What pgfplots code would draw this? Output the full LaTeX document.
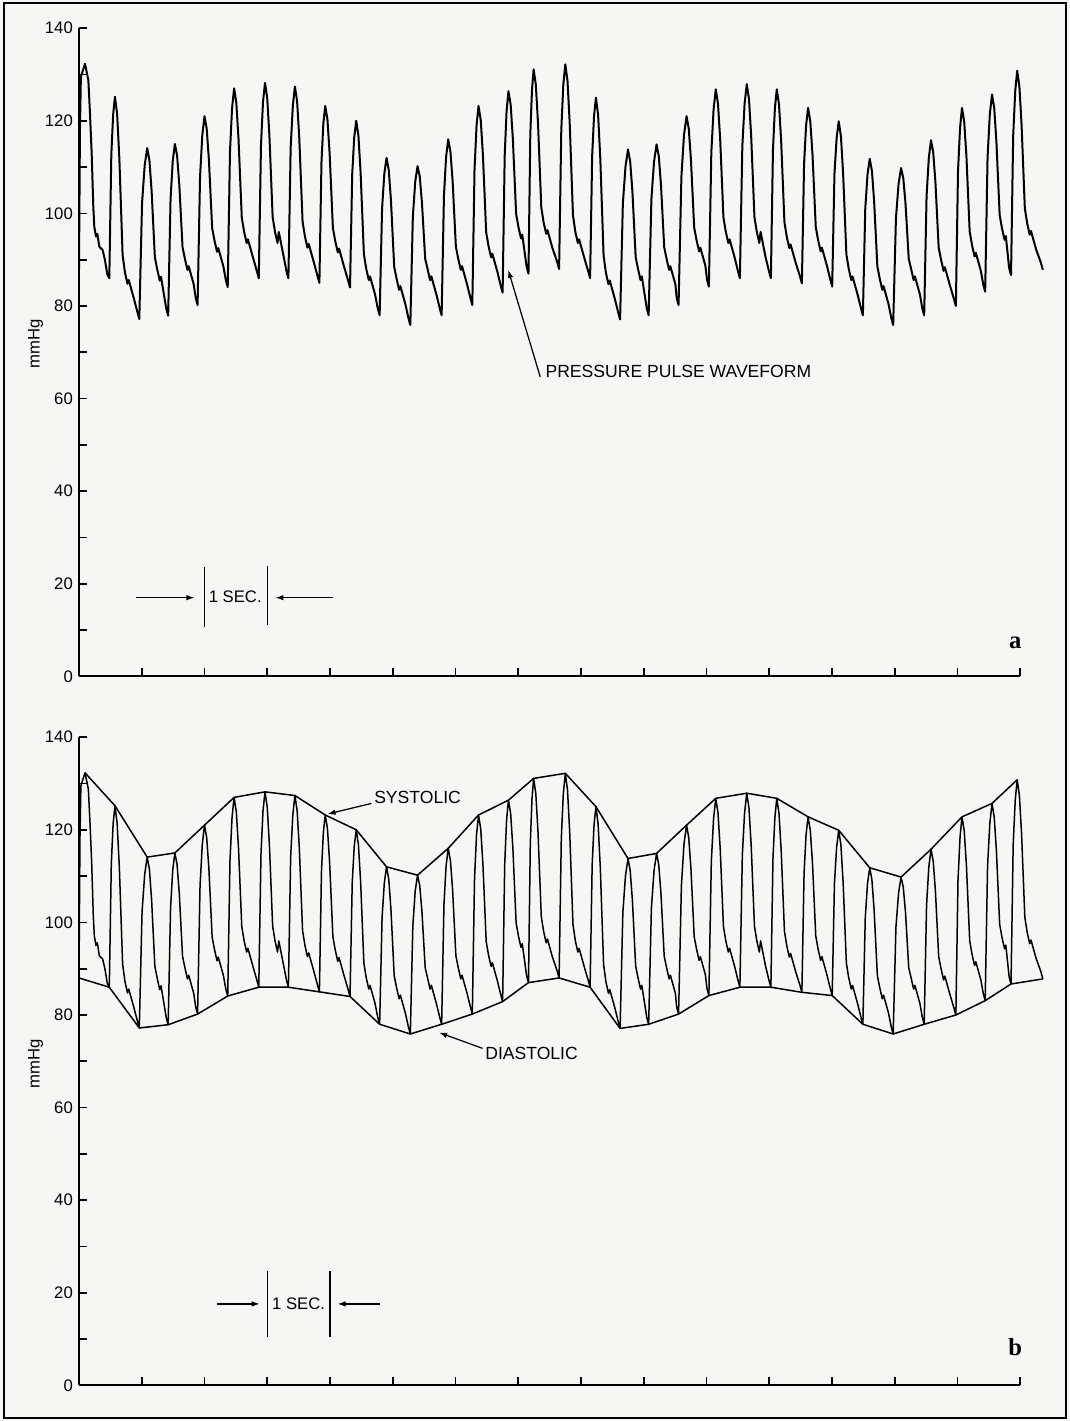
\documentclass[border=0pt]{standalone}
\usepackage{pgfplots}
\pgfplotsset{compat=1.18}
\usepackage{pgfplotstable}
\usepackage{fontspec}
\setmainfont{Liberation Sans}
\newfontfamily\serifbold{Liberation Serif}
\usetikzlibrary{arrows.meta}
\definecolor{paper}{RGB}{246,246,244}

% arterial pressure trace (time in s, pressure in mmHg)
\pgfplotstableread{
t p
0.000 88.0
0.015 118.0
0.030 129.5
0.060 130.8
0.096 132.3
0.125 130.4
0.149 128.8
0.175 121.6
0.202 113.0
0.228 101.4
0.244 97.1
0.271 95.0
0.292 95.6
0.324 92.8
0.377 92.1
0.414 89.9
0.451 86.8
0.483 86.0
0.515 112.7
0.544 121.3
0.573 125.2
0.608 121.4
0.643 111.9
0.695 91.0
0.733 87.2
0.773 84.8
0.793 85.6
0.873 81.7
0.931 78.7
0.961 77.2
1.005 102.3
1.047 110.4
1.087 114.1
1.122 111.5
1.157 104.9
1.209 90.5
1.247 87.9
1.287 85.5
1.307 86.3
1.391 79.4
1.421 77.9
1.459 103.1
1.494 111.3
1.528 115.0
1.563 112.5
1.598 106.3
1.650 92.7
1.688 90.2
1.728 87.8
1.748 88.6
1.828 84.7
1.860 81.7
1.890 80.2
1.929 107.9
1.965 116.9
2.000 121.0
2.035 118.3
2.070 111.6
2.122 96.8
2.160 94.1
2.200 91.7
2.220 92.5
2.300 88.6
2.340 85.6
2.370 84.1
2.406 113.3
2.439 122.7
2.472 127.0
2.507 123.9
2.542 116.1
2.594 99.1
2.632 96.0
2.672 93.6
2.692 94.4
2.772 90.5
2.835 87.5
2.865 86.0
2.900 114.7
2.932 124.0
2.964 128.2
2.999 125.0
3.034 116.9
3.086 99.2
3.124 96.0
3.164 93.6
3.184 96.0
3.264 90.5
3.307 87.5
3.337 86.0
3.373 114.2
3.408 123.3
3.441 127.4
3.476 124.2
3.511 116.1
3.563 98.2
3.601 95.0
3.641 92.6
3.661 93.4
3.741 89.5
3.801 86.5
3.831 85.0
3.864 111.0
3.894 119.4
3.924 123.2
3.959 120.3
3.994 113.0
4.046 96.9
4.084 94.0
4.124 91.6
4.144 92.4
4.224 88.5
4.289 85.5
4.319 84.0
4.354 108.5
4.386 116.4
4.418 120.0
4.453 116.8
4.488 108.8
4.540 91.2
4.578 88.0
4.618 85.6
4.638 86.4
4.718 82.5
4.761 79.5
4.791 78.0
4.830 101.1
4.866 108.6
4.901 112.0
4.936 109.4
4.971 102.9
5.023 88.5
5.061 85.9
5.101 83.5
5.121 84.3
5.201 80.4
5.250 77.4
5.280 75.9
5.320 99.2
5.358 106.8
5.395 110.2
5.430 108.0
5.465 102.4
5.517 90.2
5.555 88.0
5.595 85.6
5.615 86.4
5.695 82.5
5.749 79.5
5.779 78.0
5.816 103.8
5.850 112.2
5.884 116.0
5.919 113.4
5.954 107.0
6.006 92.8
6.044 90.2
6.084 87.8
6.104 88.6
6.184 84.7
6.238 81.7
6.268 80.2
6.303 109.4
6.335 118.9
6.367 123.2
6.402 120.2
6.437 112.6
6.489 95.9
6.527 92.9
6.567 90.5
6.587 91.3
6.667 87.4
6.721 84.4
6.751 82.9
6.784 112.5
6.814 122.1
6.844 126.4
6.879 123.5
6.914 116.1
6.966 99.9
7.004 97.0
7.044 94.6
7.064 95.4
7.133 88.5
7.163 87.0
7.192 117.0
7.219 126.7
7.245 131.1
7.280 127.8
7.315 119.5
7.367 101.3
7.405 98.0
7.445 95.6
7.465 96.4
7.545 92.5
7.621 89.5
7.651 88.0
7.686 118.1
7.718 127.8
7.750 132.2
7.785 128.6
7.820 119.5
7.872 99.6
7.910 96.0
7.950 93.6
7.970 94.4
8.050 90.5
8.115 87.5
8.145 86.0
8.178 112.5
8.208 121.1
8.238 125.0
8.273 121.2
8.308 111.7
8.360 90.9
8.398 87.1
8.438 84.7
8.458 85.5
8.538 81.6
8.593 78.6
8.623 77.1
8.667 102.1
8.709 110.1
8.749 113.8
8.784 111.2
8.819 104.8
8.871 90.6
8.909 88.0
8.949 85.6
8.969 86.4
9.048 79.5
9.078 78.0
9.122 103.1
9.164 111.2
9.204 114.9
9.239 112.4
9.274 106.3
9.326 92.7
9.364 90.2
9.404 87.8
9.424 88.6
9.504 84.7
9.525 81.7
9.555 80.2
9.600 107.9
9.641 116.9
9.682 121.0
9.717 118.3
9.752 111.6
9.804 96.9
9.842 94.2
9.882 91.8
9.902 92.6
9.982 88.7
10.008 85.7
10.038 84.2
10.077 113.2
10.113 122.5
10.148 126.8
10.183 123.7
10.218 116.0
10.270 99.1
10.308 96.0
10.348 93.6
10.368 94.4
10.448 90.5
10.502 87.5
10.532 86.0
10.571 114.5
10.607 123.7
10.642 127.9
10.677 124.7
10.712 116.7
10.764 99.2
10.802 96.0
10.842 93.6
10.862 96.0
10.942 90.5
10.996 87.5
11.026 86.0
11.059 113.7
11.090 122.7
11.120 126.8
11.155 123.6
11.190 115.6
11.242 98.1
11.280 94.9
11.320 92.5
11.340 93.3
11.420 89.4
11.490 86.4
11.520 84.9
11.555 110.7
11.587 119.0
11.619 122.8
11.654 119.9
11.689 112.8
11.741 97.1
11.779 94.2
11.819 91.8
11.839 92.6
11.919 88.7
11.973 85.7
12.003 84.2
12.039 108.5
12.074 116.3
12.107 119.9
12.142 116.7
12.177 108.7
12.229 91.2
12.267 88.0
12.307 85.6
12.327 86.4
12.407 82.5
12.462 79.5
12.492 78.0
12.530 101.0
12.566 108.4
12.601 111.8
12.636 109.2
12.671 102.7
12.723 88.5
12.761 85.9
12.801 83.5
12.821 84.3
12.901 80.4
12.945 77.4
12.975 75.9
13.019 99.0
13.061 106.4
13.101 109.8
13.136 107.6
13.171 102.2
13.223 90.2
13.261 88.0
13.301 85.6
13.321 86.4
13.401 82.5
13.439 79.5
13.469 78.0
13.507 103.7
13.543 112.0
13.578 115.8
13.613 113.2
13.648 106.8
13.700 92.6
13.738 90.0
13.778 87.6
13.798 88.4
13.878 84.5
13.944 81.5
13.974 80.0
14.008 109.1
14.041 118.5
14.072 122.8
14.107 119.8
14.142 112.4
14.194 96.1
14.232 93.1
14.272 90.7
14.292 91.5
14.372 87.6
14.411 84.6
14.441 83.1
14.479 112.1
14.515 121.4
14.550 125.7
14.585 122.8
14.620 115.5
14.672 99.6
14.710 96.7
14.750 94.3
14.770 95.1
14.823 88.2
14.853 86.7
14.887 116.7
14.920 126.4
14.951 130.8
14.986 127.5
15.021 119.2
15.073 101.1
15.111 97.8
15.151 95.4
15.171 96.2
15.251 92.3
15.330 89.3
15.360 87.8
}\pulse

% beat-by-beat peaks (systolic)
\pgfplotstableread{
t p
0.096 132.3
0.573 125.2
1.087 114.1
1.528 115.0
2.000 121.0
2.472 127.0
2.964 128.2
3.441 127.4
3.924 123.2
4.418 120.0
4.901 112.0
5.395 110.2
5.884 116.0
6.367 123.2
6.844 126.4
7.245 131.1
7.750 132.2
8.238 125.0
8.749 113.8
9.204 114.9
9.682 121.0
10.148 126.8
10.642 127.9
11.120 126.8
11.619 122.8
12.107 119.9
12.601 111.8
13.101 109.8
13.578 115.8
14.072 122.8
14.550 125.7
14.951 130.8
}\systolic

% beat-by-beat troughs (diastolic)
\pgfplotstableread{
t p
0.000 88.0
0.483 86.0
0.961 77.2
1.421 77.9
1.890 80.2
2.370 84.1
2.865 86.0
3.337 86.0
3.831 85.0
4.319 84.0
4.791 78.0
5.280 75.9
5.779 78.0
6.268 80.2
6.751 82.9
7.163 87.0
7.651 88.0
8.145 86.0
8.623 77.1
9.078 78.0
9.555 80.2
10.038 84.2
10.532 86.0
11.026 86.0
11.520 84.9
12.003 84.2
12.492 78.0
12.975 75.9
13.469 78.0
13.974 80.0
14.441 83.1
14.853 86.7
15.360 87.8
}\diastolic

\pgfplotsset{
  panel/.style={
    scale only axis, width=188.25mm, height=129.64mm,
    xmin=0, xmax=15, ymin=0, ymax=140,
    axis lines=left,
    axis line style={-, line width=0.42mm},
    xtick={1,...,15}, xticklabels={},
    ytick={0,20,...,140}, minor ytick={10,30,...,130},
    tick align=inside,
    major tick length=1.6mm, minor tick length=1.6mm,
    every tick/.style={black, line width=0.35mm},
    yticklabel style={font=\fontsize{9.5}{11}\selectfont},
    /pgf/number format/assume math mode=true,
    clip=false,
  },
}
\tikzset{arr/.style={-{Latex[length=1.6mm,width=1.1mm]}, line width=0.25mm}}

\begin{document}
\begin{tikzpicture}[font=\fontsize{10}{12}\selectfont]
\useasboundingbox (-15.8mm,-148.92mm) rectangle (198.2mm,135.28mm);
\fill[paper] (-15.8mm,-148.92mm) rectangle (198.2mm,135.28mm);
\draw[line width=0.45mm] (-15mm,-148.32mm) rectangle (197.4mm,134.68mm);

% (a) pressure pulse waveform
\begin{axis}[panel, at={(0,0)}, anchor=south west]
\addplot[black, line width=0.4mm, line join=round, no markers] table {\pulse};
\node[rotate=90, inner sep=0, font=\fontsize{9.5}{11}\selectfont] at (axis cs:-0.69,71.8) {mmHg};
\draw[arr] (axis cs:7.35,64.7) -- (axis cs:6.84,87.8);
\node[anchor=west, inner sep=0] at (axis cs:7.43,65.8) {PRESSURE PULSE WAVEFORM};
\draw[line width=0.3mm] (axis cs:2,10.7) -- (axis cs:2,23.7);
\draw[line width=0.3mm] (axis cs:3,11.0) -- (axis cs:3,23.8);
\draw[arr] (axis cs:0.91,17) -- (axis cs:1.84,17);
\draw[arr] (axis cs:4.04,17) -- (axis cs:3.13,17);
\node[inner sep=0, font=\fontsize{9.5}{11}\selectfont] at (axis cs:2.49,17.2) {1 SEC.};
\node[inner sep=0] at (axis cs:14.92,7.3) {\serifbold\bfseries\fontsize{14}{16}\selectfont a};
\end{axis}

% (b) same waveform with systolic and diastolic envelopes
\begin{axis}[panel, at={(0,-141.8mm)}, anchor=south west]
\addplot[black, line width=0.3mm, line join=round, no markers] table {\pulse};
\addplot[black, line width=0.3mm, line join=round, no markers] table {\systolic};
\addplot[black, line width=0.3mm, line join=round, no markers] table {\diastolic};
\node[rotate=90, inner sep=0, font=\fontsize{9.5}{11}\selectfont] at (axis cs:-0.69,69.5) {mmHg};
\draw[arr] (axis cs:4.66,125.7) -- (axis cs:3.96,123.4);
\node[anchor=west, inner sep=0] at (axis cs:4.70,126.9) {SYSTOLIC};
\draw[arr] (axis cs:6.43,72.8) -- (axis cs:5.74,76.2);
\node[anchor=west, inner sep=0] at (axis cs:6.47,71.7) {DIASTOLIC};
\draw[line width=0.3mm] (axis cs:3,10.4) -- (axis cs:3,24.8);
\draw[line width=0.3mm] (axis cs:4,10.4) -- (axis cs:4,24.8);
\draw[arr] (axis cs:2.2,17.6) -- (axis cs:2.88,17.6);
\draw[arr] (axis cs:4.80,17.6) -- (axis cs:4.12,17.6);
\node[inner sep=0, font=\fontsize{9.5}{11}\selectfont] at (axis cs:3.5,17.6) {1 SEC.};
\node[inner sep=0] at (axis cs:14.92,8.2) {\serifbold\bfseries\fontsize{14}{16}\selectfont b};
\end{axis}
\end{tikzpicture}
\end{document}
